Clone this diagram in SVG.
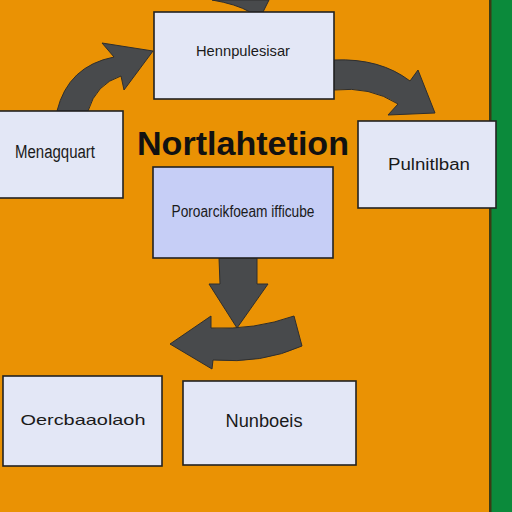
<svg xmlns="http://www.w3.org/2000/svg" width="512" height="512" viewBox="0 0 512 512">
<style>
.box{fill:#E3E7F6;stroke:#222;stroke-width:1.6}
.blue{fill:#C6CEF6}
.lbl{font-family:"Liberation Sans",Arial,sans-serif;fill:#1a1a1a;text-anchor:middle}
.arr{fill:#484a4c;stroke:#2e2e2e;stroke-width:1;stroke-linejoin:round}
</style>
<rect x="0" y="0" width="512" height="512" fill="#EA9204"/>
<rect x="491" y="0" width="21" height="512" fill="#0B8A3B"/>
<rect x="489" y="0" width="2.5" height="512" fill="#3d3a14"/>
<g id="connectors">
<path class="arr" d="M 212 0 Q 236 4 250 12 L 263 12 L 269 0 Z"/>
<path class="arr" d="M 57 111 Q 68 66 114 57 L 102 43 L 153 51 L 124 90 L 121 76 Q 96 84 88 111 Z"/>
<path class="arr" d="M 334 60 Q 380 58 410 81 L 418 70 L 435 113 L 388 115 L 398 104 Q 370 86 334 90 Z"/>
<path class="arr" d="M 219 258 L 257 258 L 257 284 L 268 284 L 237 328 L 209 284 L 220 284 Z"/>
<path class="arr" d="M 170 344 L 211 316 L 211 328 Q 255 330 294 316 L 302 346 Q 262 364 213 360 L 212 369 Z"/>
</g>
<g id="n-top">
<rect class="box" x="154" y="12" width="180" height="87"/>
<text class="lbl" x="243" y="56" font-size="15" textLength="94" lengthAdjust="spacingAndGlyphs">Hennpulesisar</text>
</g>
<g id="n-left">
<rect class="box" x="-2" y="111" width="125" height="87"/>
<text class="lbl" x="55" y="158" font-size="18" textLength="80" lengthAdjust="spacingAndGlyphs">Menagquart</text>
</g>
<g id="n-right">
<rect class="box" x="358" y="121" width="138" height="87"/>
<text class="lbl" x="429" y="170" font-size="16" textLength="82" lengthAdjust="spacingAndGlyphs">Pulnitlban</text>
</g>
<g id="title">
<text x="243" y="155" font-family="'Liberation Sans',Arial,sans-serif" font-weight="bold" font-size="34" fill="#111" text-anchor="middle" textLength="212" lengthAdjust="spacingAndGlyphs">Nortlahtetion</text>
</g>
<g id="n-center">
<rect class="box blue" x="153" y="167" width="180" height="91"/>
<text class="lbl" x="243" y="217" font-size="16" textLength="143" lengthAdjust="spacingAndGlyphs">Poroarcikfoeam ifficube</text>
</g>
<g id="n-bottom-left">
<rect class="box" x="3" y="376" width="159" height="90"/>
<text class="lbl" x="83" y="425" font-size="15" textLength="125" lengthAdjust="spacingAndGlyphs">Oercbaaolaoh</text>
</g>
<g id="n-bottom-mid">
<rect class="box" x="183" y="381" width="173" height="84"/>
<text class="lbl" x="264" y="427" font-size="18" textLength="77" lengthAdjust="spacingAndGlyphs">Nunboeis</text>
</g>
</svg>
